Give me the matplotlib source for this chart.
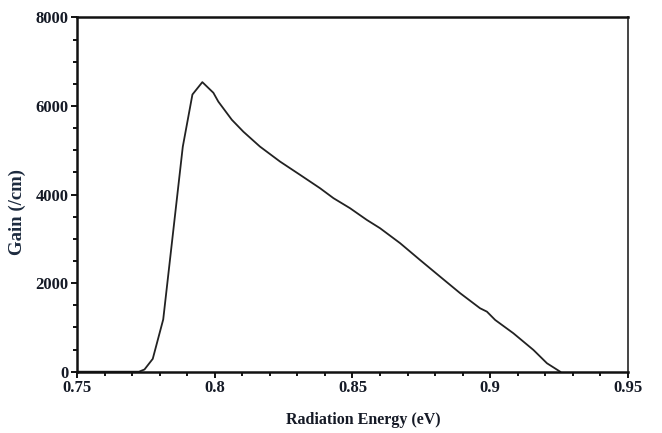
import matplotlib
matplotlib.use("Agg")
from matplotlib import pyplot as plt
from matplotlib.ticker import MultipleLocator

# values
energy = [0.75, 0.76, 0.77, 0.7725, 0.7745, 0.7775, 0.7813, 0.7884, 0.7919,
          0.7955, 0.7995, 0.8013, 0.8062, 0.8104, 0.8164, 0.8237, 0.8310,
          0.8382, 0.8431, 0.8491, 0.8552, 0.8600, 0.8673, 0.8745, 0.8818,
          0.8891, 0.8963, 0.8988, 0.9018, 0.9084, 0.9157, 0.9206, 0.9254]
gain = [0, 0, 0, 0, 50, 290, 1180, 5080, 6260,
        6540, 6300, 6100, 5690, 5420, 5085, 4746, 4445,
        4145, 3919, 3693, 3428, 3241, 2902, 2524, 2147,
        1772, 1433, 1356, 1168, 868, 490, 190, 0]

x_ticks = [0.75, 0.8, 0.85, 0.9, 0.95]
x_tick_labels = ["0.75", "0.8", "0.85", "0.9", "0.95"]
y_ticks = [0, 2000, 4000, 6000, 8000]

plt.rcParams["font.family"] = ["Liberation Serif", "DejaVu Serif"]
plt.rcParams["font.weight"] = "bold"

fig = plt.figure(figsize=(6.62, 4.33), dpi=100)
ax = fig.add_axes([0.1163, 0.1416, 0.8323, 0.818])

ax.plot(energy, gain, color="#222222", linewidth=1.3)

ax.set_xlim(0.75, 0.95)
ax.set_ylim(0, 8000)
ax.set_xticks(x_ticks)
ax.set_xticklabels(x_tick_labels)
ax.set_yticks(y_ticks)
ax.xaxis.set_minor_locator(MultipleLocator(0.01))
ax.yaxis.set_minor_locator(MultipleLocator(500))

ax.tick_params(which="both", direction="out", width=1.4, color="#111111",
               labelsize=12, labelcolor="#151a26")
ax.tick_params(which="major", length=4, pad=2)
ax.tick_params(which="minor", length=3)

for side in ["left", "bottom", "top"]:
    ax.spines[side].set_linewidth(1.8)
    ax.spines[side].set_color("#111111")
ax.spines["right"].set_linewidth(1.4)
ax.spines["right"].set_color("#444444")

ax.set_xlabel("Radiation Energy (eV)", fontsize=11.5, fontweight="bold",
              color="#151a26")
ax.set_ylabel("Gain (/cm)", fontsize=13.5, fontweight="bold",
              color="#1c2a3e")
ax.xaxis.set_label_coords(0.52, -0.115)
ax.yaxis.set_label_coords(-0.092, 0.45)

fig.savefig("out.png", dpi=100)
